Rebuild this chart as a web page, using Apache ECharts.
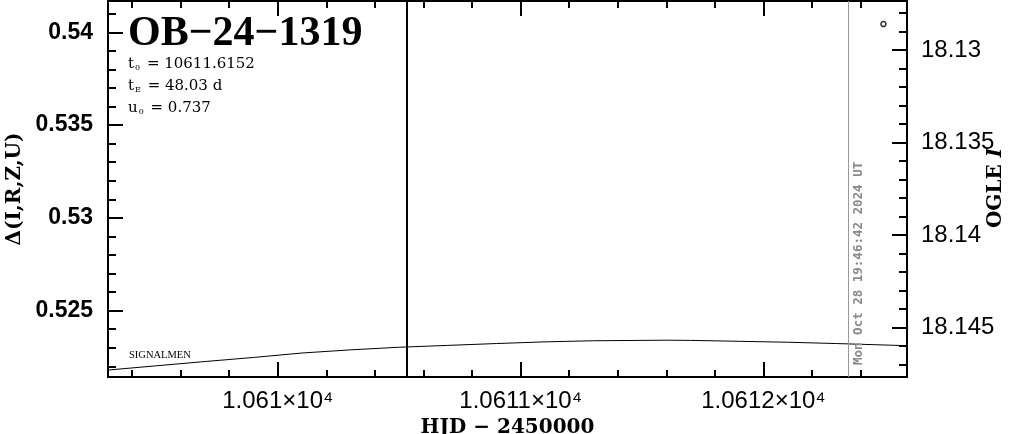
<!DOCTYPE html>
<html><head><meta charset="utf-8">
<script src="https://cdn.jsdelivr.net/npm/echarts@6/dist/echarts.min.js"></script>
<style>html,body{margin:0;padding:0;background:#fff}#c{width:1011px;height:434px}</style>
</head><body><div id="c"></div>
<script>
// ---- data ----
const modelHJD   = [10609.3, 10609.5, 10609.7, 10609.9, 10610.1, 10610.3, 10610.5, 10610.7, 10610.9, 10611.1, 10611.3, 10611.5, 10611.6, 10611.7, 10611.9, 10612.1, 10612.3, 10612.5, 10612.6];
const modelDelta = [0.52180, 0.52203, 0.52226, 0.52248, 0.52272, 0.52289, 0.52303, 0.52313, 0.52323, 0.52332, 0.52338, 0.52340, 0.52341, 0.52340, 0.52335, 0.52330, 0.52323, 0.52315, 0.52311];
const ogleHJD = [10612.494];
const ogleMag = [18.1286];
const xMajorTicks = [10610, 10611, 10612];
const xTickLabels = ['1.061×10⁴', '1.0611×10⁴', '1.0612×10⁴'];
const xMinorTicks = [10609.4, 10609.6, 10609.8, 10610.2, 10610.4, 10610.6, 10610.8, 10611.2, 10611.4, 10611.6, 10611.8, 10612.2, 10612.4];
const yLeftMajor = [0.525, 0.53, 0.535, 0.54];
const yLeftLabels = ['0.525', '0.53', '0.535', '0.54'];
const yLeftMinor = [0.522, 0.523, 0.524, 0.526, 0.527, 0.528, 0.529, 0.531, 0.532, 0.533, 0.534, 0.536, 0.537, 0.538, 0.539, 0.541];
const yRightMajor = [18.13, 18.135, 18.14, 18.145];
const yRightLabels = ['18.13', '18.135', '18.14', '18.145'];
const yRightMinor = [18.128, 18.129, 18.131, 18.132, 18.133, 18.134, 18.136, 18.137, 18.138, 18.139, 18.141, 18.142, 18.143, 18.144, 18.146, 18.147];
const eventLineHJD = [10610.534];
const dateLineHJD = [10612.349];
const dateStamp = 'Mon Oct 28 19:46:42 2024 UT';
const eventName = 'OB−24−1319';
const paramLines = [['t', '0', ' = 10611.6152'], ['t', 'E', ' = 48.03 d'], ['u', '0', ' = 0.737']];
const modelLabel = 'SIGNALMEN';
const xName = 'HJD − 2450000';
const yLeftName = 'Δ(I,R,Z,U)';
const yRightName = ['OGLE ', 'I'];
const xRange = [10609.301, 10612.591];
const yLeftRange = [0.521427, 0.541686];
const yRightRange = [18.127351, 18.147676];

// ---- chart ----
const chart = echarts.init(document.getElementById('c'), null, {renderer: 'canvas'});
const BLACK = '#000';
function lookup(vals, labels) {
  return v => { const i = vals.findIndex(t => Math.abs(t - v) < 1e-7); return i >= 0 ? labels[i] : ''; };
}
function axis(kind, position, range, ticks, len, label, extra) {
  const a = {
    type: 'value', position: position, min: range[0], max: range[1],
    splitLine: {show: false},
    axisLine: {show: true, onZero: false, lineStyle: {color: BLACK, width: 2}},
    axisTick: {show: true, inside: true, length: len, lineStyle: {color: BLACK, width: 2}, customValues: ticks},
    axisLabel: label ? Object.assign({show: true, customValues: ticks}, label) : {show: false, customValues: ticks}
  };
  return Object.assign(a, extra || {});
}
const nameStyle = {fontFamily: 'DejaVu Serif', fontWeight: 'bold', fontSize: 20, color: BLACK};
const xLabel = {formatter: lookup(xMajorTicks, xTickLabels), color: BLACK, fontFamily: 'Liberation Sans', fontSize: 24, margin: 12};
const option = {
  animation: false,
  backgroundColor: '#fff',
  grid: {left: 108, right: 104, top: 1, bottom: 57, containLabel: false, outerBoundsMode: 'none'},
  xAxis: [
    axis('x', 'bottom', xRange, xMajorTicks, 15, xLabel, {
      name: xName, nameLocation: 'middle', nameGap: 37, nameTextStyle: nameStyle}),
    axis('x', 'bottom', xRange, xMinorTicks, 7, null),
    axis('x', 'top', xRange, xMajorTicks, 15, null),
    axis('x', 'top', xRange, xMinorTicks, 7, null)
  ],
  yAxis: [
    axis('y', 'left', yLeftRange, yLeftMajor, 15,
      {formatter: lookup(yLeftMajor, yLeftLabels), color: BLACK, fontFamily: 'Liberation Sans', fontWeight: 'bold', fontSize: 23, margin: 15},
      {name: yLeftName, nameLocation: 'middle', nameGap: 78, nameTextStyle: nameStyle}),
    axis('y', 'left', yLeftRange, yLeftMinor, 8, null),
    axis('y', 'right', yRightRange, yRightMajor, 15,
      {formatter: lookup(yRightMajor, yRightLabels), color: BLACK, fontFamily: 'Liberation Sans', fontSize: 24, margin: 14},
      {inverse: true}),
    axis('y', 'right', yRightRange, yRightMinor, 8, null, {inverse: true})
  ],
  series: [
    {
      type: 'line', xAxisIndex: 0, yAxisIndex: 0,
      data: modelHJD.map((x, i) => [x, modelDelta[i]]),
      showSymbol: false, symbol: 'none', smooth: false, clip: true,
      lineStyle: {color: BLACK, width: 1},
      markLine: {
        silent: true, symbol: 'none', animation: false,
        data: [
          {xAxis: eventLineHJD[0], lineStyle: {color: BLACK, width: 2, type: 'solid'}, label: {show: false}},
          {xAxis: dateLineHJD[0], lineStyle: {color: '#999', width: 1, type: 'solid'},
           label: {show: true, position: 'insideStartBottom', formatter: dateStamp, color: '#8a8a8a',
                   fontFamily: 'DejaVu Sans Mono', fontWeight: 'bold', fontSize: 12.5, distance: [12, 4]}}
        ]
      }
    },
    {
      type: 'scatter', xAxisIndex: 0, yAxisIndex: 2,
      data: ogleHJD.map((x, i) => [x, ogleMag[i]]),
      symbol: 'circle', symbolSize: 5,
      itemStyle: {color: '#fff', borderColor: BLACK, borderWidth: 1.5}
    }
  ],
  graphic: [
    {type: 'text', x: 128, y: 34, style: {text: eventName, fontFamily: 'Liberation Serif', fontWeight: 'bold', fontSize: 42, fill: BLACK, verticalAlign: 'middle'}},
    {type: 'text', x: 129, y: 355, style: {text: modelLabel, fontFamily: 'Liberation Serif', fontSize: 10.5, fill: BLACK, verticalAlign: 'middle'}},
    {type: 'text', x: 996, y: 188, rotation: Math.PI / 2,
     style: {text: '{a|' + yRightName[0] + '}{i|' + yRightName[1] + '}', align: 'center', verticalAlign: 'middle', fill: BLACK,
             rich: {a: {fontFamily: 'DejaVu Serif', fontWeight: 'bold', fontSize: 20, fill: BLACK, color: BLACK},
                    i: {fontFamily: 'DejaVu Serif', fontWeight: 'bold', fontStyle: 'italic', fontSize: 20, fill: BLACK, color: BLACK}}}}
  ].concat(paramLines.map((p, i) => ({
    type: 'text', x: 128, y: 64 + i * 22,
    style: {
      text: '{a|' + p[0] + '}{b|' + p[1] + '}{a|' + p[2] + '}',
      verticalAlign: 'middle', fill: BLACK,
      rich: {
        a: {fontFamily: 'DejaVu Serif', fontSize: 15, fill: BLACK, color: BLACK},
        b: {fontFamily: 'DejaVu Serif', fontSize: 8, fill: BLACK, color: BLACK, verticalAlign: 'bottom', padding: [6, 2, 0, 1]}
      }
    }
  })))
};
chart.setOption(option);
</script>
</body></html>
